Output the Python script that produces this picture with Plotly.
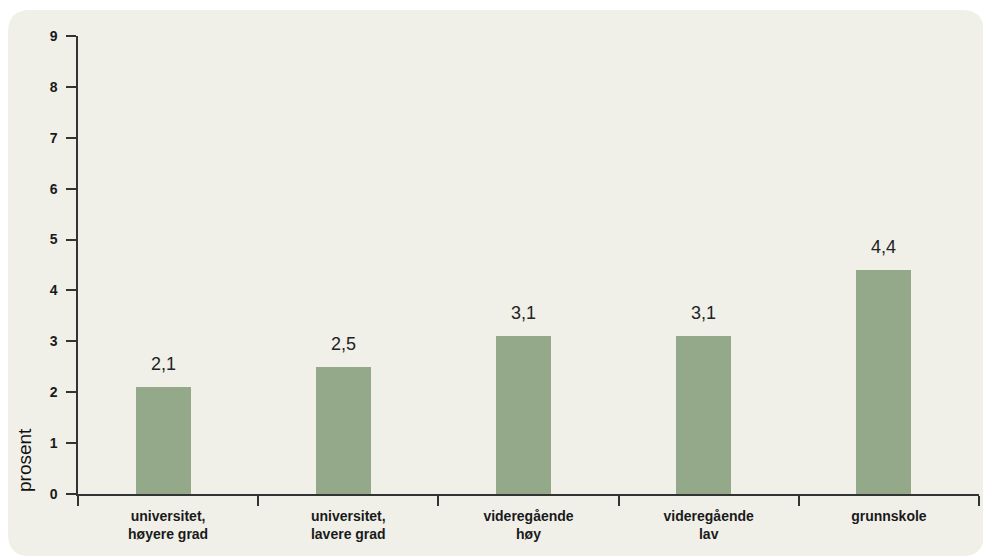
import plotly.graph_objects as go

categories = ["universitet,<br>høyere grad", "universitet,<br>lavere grad",
              "videregående<br>høy", "videregående<br>lav", "grunnskole"]
values = [2.1, 2.5, 3.1, 3.1, 4.4]
y_ticks = list(range(0, 10))
y_title = "prosent"

W, H = 983, 558
L, R, T, B = 78, 4, 36, 64
pw, ph = W - L - R, H - T - B

def px_x(p):
    return (p - L) / pw

def px_y(p):
    return (H - B - p) / ph

# rounded panel path in paper coords
x0, x1 = px_x(8), px_x(984)
y0, y1 = px_y(556), px_y(10)
rx, ry = 22 / pw, 22 / ph
path = (f"M {x0+rx},{y1} L {x1-rx},{y1} Q {x1},{y1} {x1},{y1-ry} "
        f"L {x1},{y0+ry} Q {x1},{y0} {x1-rx},{y0} L {x0+rx},{y0} "
        f"Q {x0},{y0} {x0},{y0+ry} L {x0},{y1-ry} Q {x0},{y1} {x0+rx},{y1} Z")

fig = go.Figure()
fig.add_trace(go.Bar(
    x=categories, y=values,
    marker=dict(color="#94A88A", line=dict(width=0)),
    width=0.305, offset=-0.18,
    hoverinfo="skip",
))

for c, v in zip(categories, values):
    fig.add_annotation(
        x=c, y=v, xref="x", yref="y",
        text=f"{v:.1f}".replace(".", ","),
        showarrow=False, yanchor="bottom", yshift=11, xshift=-5,
        font=dict(family="Liberation Sans, Arial", size=18, color="#222222"),
    )

fig.add_annotation(
    x=px_x(24), y=0, xref="paper", yref="paper",
    text=y_title, textangle=-90, showarrow=False,
    xanchor="center", yanchor="bottom",
    font=dict(family="Liberation Sans, Arial", size=19, color="#111111"),
)

fig.update_layout(
    width=W, height=H,
    margin=dict(l=L, r=R, t=T, b=B, pad=0),
    paper_bgcolor="white",
    plot_bgcolor="rgba(0,0,0,0)",
    showlegend=False,
    bargap=0.0,
    shapes=[dict(type="path", path=path, xref="paper", yref="paper",
                 fillcolor="#F0F0E9", line=dict(width=0), layer="below")],
    xaxis=dict(
        type="category", tickson="boundaries",
        showline=True, linecolor="#333333", linewidth=2,
        ticks="outside", ticklen=10, tickcolor="#333333", tickwidth=1.5,
        showgrid=False, zeroline=False,
        ticklabelstandoff=8,
        tickfont=dict(family="Liberation Sans, Arial", size=14, color="#1a1a1a", weight="bold"),
        range=[-0.5, 4.5],
    ),
    yaxis=dict(
        range=[0, 9], tickvals=y_ticks,
        showline=True, linecolor="#333333", linewidth=1.5,
        ticks="outside", ticklen=10, tickcolor="#333333", tickwidth=1.5,
        showgrid=False, zeroline=False,
        ticklabelstandoff=6,
        tickfont=dict(family="Liberation Sans, Arial", size=14, color="#1a1a1a", weight="bold"),
    ),
)

fig.write_html("out.html")
